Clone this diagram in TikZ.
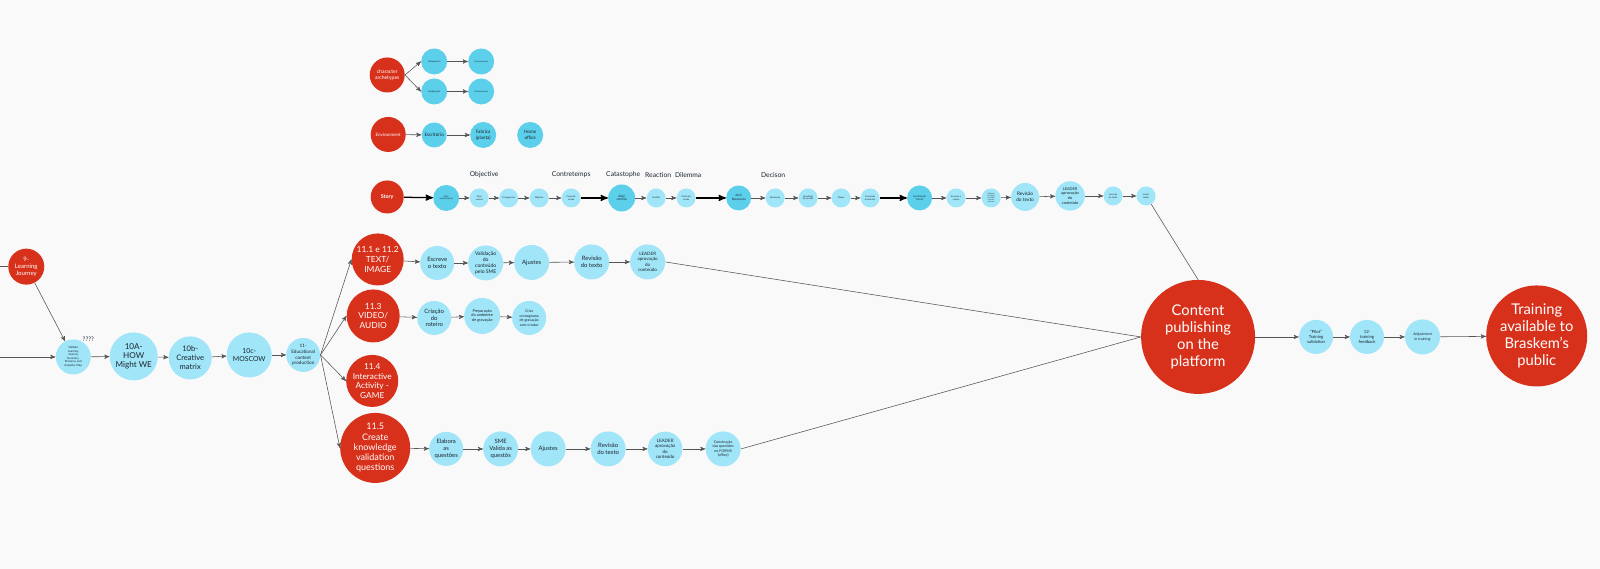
\documentclass[tikz,border=0pt]{standalone}
\usepackage{fontspec}
\setmainfont{Lato}
\setsansfont{Lato}
\usepackage{tikz}
\usetikzlibrary{arrows}
\definecolor{brbg}{RGB}{249,249,249}
\definecolor{brred}{RGB}{216,49,27}
\definecolor{brcyan}{RGB}{160,229,248}
\definecolor{brdeep}{RGB}{92,207,235}
\definecolor{brink}{RGB}{28,38,48}
\definecolor{brline}{RGB}{85,85,85}
\tikzset{
  stepnode/.style = {circle, align=center, inner sep=0pt, text centered,
    font=\sffamily},
  red_n/.style = {stepnode, fill=brred, text=white},% etape rouge
  blue_n/.style = {stepnode, fill=brcyan, text=brink},% etape bleu clair
  deep_n/.style = {stepnode, fill=brdeep, text=brink},% etape bleu fonce
  rad/.style = {minimum size=#1*0.05cm},% rayon en px
  txt/.style 2 args = {font=\sffamily\fontsize{#1}{#2}\selectfont},
  tiny_n/.style = {blue_n, rad=9.5, txt={1.6}{2}},
  lbl_n/.style = {inner sep=0pt, text=brink, font=\sffamily\fontsize{4.8}{5.5}\selectfont},
  ln_thin/.style = {draw=brline, line width=0.4pt},
  ln_thick/.style = {draw=black, line width=0.9pt}
}

\begin{document}
\begin{tikzpicture}[->,>=stealth',x=0.025cm,y=-0.025cm]
  \fill[brbg] (0,0) rectangle (1600,569);

  % personnages et environnement
  \node [red_n, rad=17.5, txt={3.6}{4.5}] (arch) at (387,75) {character\\archetypes};
  \node [deep_n, rad=13, txt={1.6}{2}] (prot) at (434,61.5) {Protagonista};
  \node [deep_n, rad=13, txt={1.6}{2}] (coad) at (434,91.5) {Coadjuvante};
  \node [deep_n, rad=13, txt={1.5}{2}] (car1) at (481,61.5) {Características};
  \node [deep_n, rad=13, txt={1.5}{2}] (car2) at (481,91.5) {Características};
  \node [red_n, rad=17.5, txt={3.2}{4}] (env) at (388,134.5) {Environment};
  \node [deep_n, rad=12.5, txt={3.3}{4}] (esc) at (434,135) {Escritório};
  \node [deep_n, rad=13, txt={3.3}{4}] (fab) at (483,135) {Fabrica\\(planta)};
  \node [deep_n, rad=13, txt={3.3}{4}] (home) at (530,135) {Home\\office};

  % histoire
  \node [red_n, rad=16.5, txt={3.8}{4.5}] (story) at (387,197) {\bfseries Story};
  \node [deep_n, rad=13, txt={1.6}{2}] (s1) at (446,198) {Ato1\\apresentação};
  \node [tiny_n] (s2) at (479,198) {Tema\\central};
  \node [tiny_n] (s3) at (508.5,198) {Protagonista};
  \node [tiny_n] (s4) at (539,198) {Objetivo};
  \node [tiny_n] (s5) at (571,198) {Ponto de\\virada};
  \node [deep_n, rad=13.5, txt={2.2}{2.7}] (s6) at (621.5,198) {Ato2\\conflito};
  \node [tiny_n] (s7) at (656,198) {Conflito};
  \node [tiny_n] (s8) at (686,198) {Ponto de\\virada};
  \node [deep_n, rad=12.5, txt={2.2}{2.7}] (s9) at (738.5,198) {Ato3\\Resolução};
  \node [tiny_n] (s10) at (775,198) {Resolução};
  \node [tiny_n] (s11) at (808,198) {Resultado\\da jornada};
  \node [tiny_n] (s12) at (841,198) {Clímax};
  \node [tiny_n] (s13) at (870,198) {Conclusão\\da história};
  \node [deep_n, rad=12.5, txt={1.8}{2.3}] (s14) at (919.5,198) {Ferramenta\\``Mural''};
  \node [tiny_n] (s15) at (956,198) {Escrever o\\roteiro};
  \node [tiny_n, txt={1.2}{1.5}] (s16) at (991,198) {Validação\\do roteiro\\pelo SME\\e ajustes\\do texto};
  \node [blue_n, rad=14, txt={3.4}{4.2}] (s17) at (1025,197) {Revisão\\do texto};
  \node [blue_n, rad=14.7, txt={2.8}{3.4}] (s18) at (1070,196) {LEADER\\aprovação\\do\\conteúdo};
  \node [tiny_n] (s19) at (1113,196) {Locução\\do texto};
  \node [tiny_n] (s20) at (1146,196) {Inserir\\áudio};

  \node [lbl_n] (lobj) at (484,175) {Objective};
  \node [lbl_n] (lcon) at (571,175) {Contretemps};
  \node [lbl_n] (lcat) at (623,175) {Catastophe};
  \node [lbl_n] (lrea) at (658,175) {Reaction};
  \node [lbl_n] (ldil) at (688,175) {Dilemma};
  \node [lbl_n] (ldec) at (773,175) {Decison};

  % parcours principal
  \coordinate (in1) at (0,266.7);
  \coordinate (in2) at (0,357);
  \node [red_n, rad=18, txt={4.3}{5}] (lj) at (26,266.7) {9-\\Learning\\Journey};
  \node [blue_n, rad=17.5, txt={2}{2.5}] (val) at (73,357) {Validate\\Learning\\Journey\\Summary,\\Personas, and\\Empathy Map};
  \node [lbl_n, txt={4.4}{5}] (qq) at (88,339) {????};
  \node [blue_n, rad=24, txt={5.8}{6.6}] (how) at (133.5,356.5) {10A-\\HOW\\Might WE};
  \node [blue_n, rad=21.5, txt={5.4}{6.2}] (cre) at (190,358) {10b-\\Creative\\matrix};
  \node [blue_n, rad=22.5, txt={4.9}{5.5}] (mos) at (249,355) {10c-\\MOSCOW};
  \node [blue_n, rad=17, txt={3.3}{4}] (edu) at (303,355) {11-\\Educational\\content\\production};

  \node [red_n, rad=26, txt={6}{6.8}] (t1) at (377.5,259.5) {11.1 e 11.2\\TEXT/\\IMAGE};
  \node [red_n, rad=26.5, txt={6}{6.8}] (t3) at (373,316) {11.3\\VIDEO/\\AUDIO};
  \node [red_n, rad=26, txt={5.9}{6.8}] (t4) at (372,381) {11.4\\Interactive\\Activity -\\GAME};
  \node [red_n, rad=35, txt={6.4}{7.3}] (t5) at (375,448) {11.5\\Create\\knowledge\\validation\\questions};

  \node [blue_n, rad=17, txt={4.2}{4.8}] (e1) at (437,263) {Escreve\\o texto};
  \node [blue_n, rad=17.5, txt={3.6}{4.3}] (v1) at (485.5,263) {Validação\\do\\conteúdo\\pelo SME};
  \node [blue_n, rad=17.5, txt={4.2}{4.8}] (aj1) at (531.5,262.5) {Ajustes};
  \node [blue_n, rad=17.5, txt={4.2}{4.8}] (r1) at (591.5,262) {Revisão\\do texto};
  \node [blue_n, rad=17.5, txt={3.2}{3.9}] (l1) at (647.5,262) {LEADER\\aprovação\\do\\conteúdo};

  \node [blue_n, rad=17, txt={4.2}{4.8}] (c3) at (434,318) {Criação\\do\\roteiro};
  \node [blue_n, rad=18, txt={2.8}{3.4}] (p3) at (482,316) {Preparação\\do ambiente\\de gravação};
  \node [blue_n, rad=17, txt={2.6}{3.2}] (cr3) at (529,318) {Criar\\cronograma\\de gravação\\com o tutor};

  \node [blue_n, rad=17, txt={4.2}{4.8}] (el) at (446,449) {Elabora\\as\\questões};
  \node [blue_n, rad=17.5, txt={4.2}{4.8}] (sme) at (500.5,449) {SME\\Valida as\\questõs};
  \node [blue_n, rad=17.5, txt={4.2}{4.8}] (aj5) at (548,449) {Ajustes};
  \node [blue_n, rad=17.5, txt={4.2}{4.8}] (r5) at (608,449) {Revisão\\do texto};
  \node [blue_n, rad=17.3, txt={3.2}{3.9}] (l5) at (665,449) {LEADER\\aprovação\\do\\conteúdo};
  \node [blue_n, rad=17.5, txt={2.6}{3.2}] (f5) at (723,449) {Construção\\das questões\\no FORMS\\(office)};

  \node [red_n, rad=57, txt={10.5}{11.9}] (pub) at (1198,337) {Content\\publishing\\on the\\platform};
  \node [blue_n, rad=17, txt={3}{3.8}] (pil) at (1316,337) {``Pilot''\\Training\\validation};
  \node [blue_n, rad=17, txt={3}{3.8}] (fb) at (1367,337) {12-\\training\\feedback};
  \node [blue_n, rad=17.5, txt={2.6}{3.2}] (adj) at (1422.5,337) {Adjustment\\in training};
  \node [red_n, rad=50.5, txt={10.5}{11.9}] (tr) at (1536.7,336) {Training\\available to\\Braskem's\\public};

  % liaisons
  \draw [ln_thin] (arch.east) -- (prot.west);
  \draw [ln_thin] (arch.east) -- (coad.west);
  \foreach \from/\to in {prot/car1,coad/car2,env/esc,esc/fab,
      s1/s2,s2/s3,s3/s4,s4/s5,s6/s7,s7/s8,s9/s10,s10/s11,s11/s12,s12/s13,
      s14/s15,s15/s16,s16/s17,s17/s18,s18/s19,s19/s20,
      in2/val,lj/val,val/how,how/cre,cre/mos,mos/edu,
      t1/e1,e1/v1,v1/aj1,aj1/r1,r1/l1,t3/c3,c3/p3,p3/cr3,
      t5/el,el/sme,sme/aj5,aj5/r5,r5/l5,l5/f5,
      pub/pil,pil/fb,fb/adj,adj/tr}
    \draw [ln_thin] (\from) -- (\to);
  \foreach \from/\to in {story/s1,s5/s6,s8/s9,s13/s14}
    \draw [ln_thick] (\from) -- (\to);
  \foreach \to in {t1,t3,t4,t5}
    \draw [ln_thin] (edu.east) -- (\to.west);
  \draw [ln_thin,-] (in1) -- (lj);
  \draw [ln_thin,-] (s20) -- (pub.north);
  \draw [ln_thin,-] (l1.east) -- (pub.west);
  \draw [ln_thin,-] (f5.east) -- (pub.west);
\end{tikzpicture}
\end{document}
